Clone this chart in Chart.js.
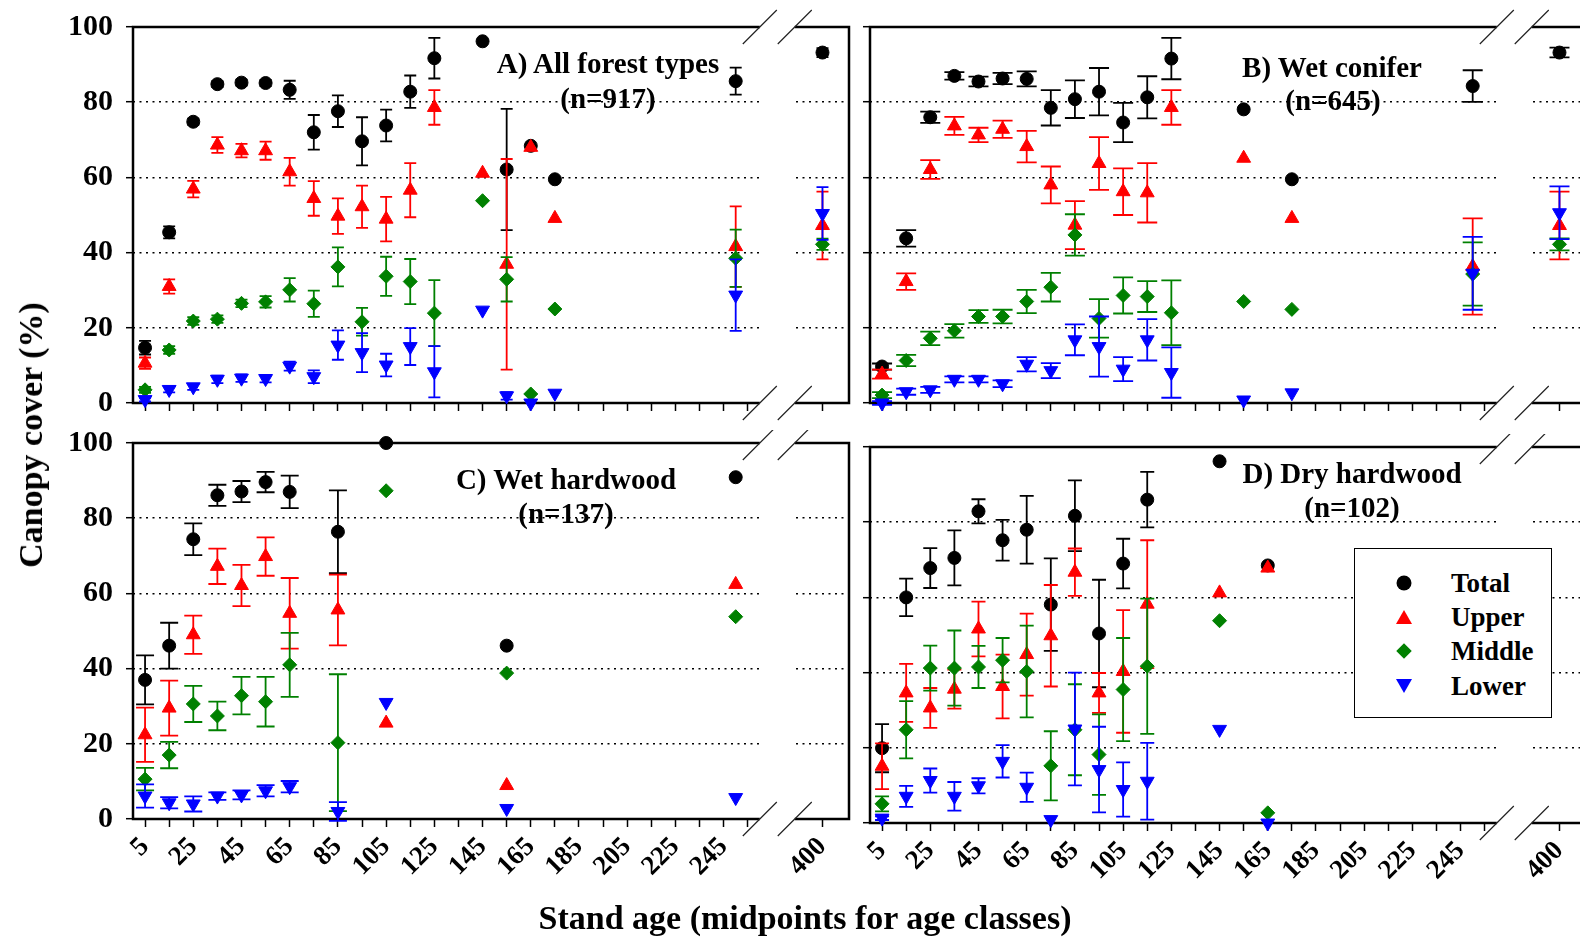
<!DOCTYPE html>
<html>
<head>
<meta charset="utf-8">
<script src="https://cdn.jsdelivr.net/npm/chart.js@4.4.1/dist/chart.umd.min.js"></script>
<style>
  body { margin: 0; width: 1580px; height: 940px; overflow: hidden; background: #fff; position: relative; }
  canvas { position: absolute; }
  .t { position: absolute; transform: translate(-50%, -50%); font: bold 29px 'Liberation Serif', serif;
       white-space: nowrap; line-height: 1; color: #000; z-index: 5; }
  .legend { position: absolute; left: 1354px; top: 548px; width: 196px; height: 168px; border: 1.5px solid #000;
            background: #fff; z-index: 5; }
  .legend .row { position: absolute; left: 0; height: 30px; width: 100%; }
  .legend .lab { position: absolute; left: 96px; top: 50%; transform: translateY(-50%); font: bold 27px 'Liberation Serif', serif; }
  .mk { position: absolute; left: 49px; top: 50%; transform: translate(-50%, -50%); }
</style>
</head>
<body>
<canvas id="cA" width="820" height="470" style="left:40px;top:0"></canvas>
<canvas id="cB" width="820" height="470" style="left:777px;top:0"></canvas>
<canvas id="cC" width="820" height="470" style="left:40px;top:430px"></canvas>
<canvas id="cD" width="820" height="470" style="left:777px;top:434px"></canvas>

<div class="t" style="left:608px;top:63px">A) All forest types</div>
<div class="t" style="left:608px;top:98px">(n=917)</div>
<div class="t" style="left:1332px;top:67px">B) Wet conifer</div>
<div class="t" style="left:1333px;top:100px">(n=645)</div>
<div class="t" style="left:566px;top:479px">C) Wet hardwood</div>
<div class="t" style="left:566px;top:513px">(n=137)</div>
<div class="t" style="left:1352px;top:473px">D) Dry hardwood</div>
<div class="t" style="left:1352px;top:507px">(n=102)</div>

<div class="t" style="left:31px;top:435px;font-size:34px;transform:translate(-50%,-50%) rotate(-90deg)">Canopy cover (%)</div>
<div class="t" style="left:805px;top:918px;font-size:34px">Stand age (midpoints for age classes)</div>

<div class="legend">
  <div class="row" style="top:19px"><div class="mk" style="width:15px;height:15px;border-radius:50%;background:#000"></div><span class="lab">Total</span></div>
  <div class="row" style="top:53px"><div class="mk" style="width:0;height:0;border-left:8px solid transparent;border-right:8px solid transparent;border-bottom:14px solid #ff0000"></div><span class="lab">Upper</span></div>
  <div class="row" style="top:87px"><div class="mk" style="width:11px;height:11px;background:#008000;transform:translate(-50%,-50%) rotate(45deg)"></div><span class="lab">Middle</span></div>
  <div class="row" style="top:122px"><div class="mk" style="width:0;height:0;border-left:8px solid transparent;border-right:8px solid transparent;border-top:14px solid #0000ff"></div><span class="lab">Lower</span></div>
</div>

<script>
// x axis ticks (every age class) and the labelled ones
const tickAges = [5, 15, 25, 35, 45, 55, 65, 75, 85, 95, 105, 115, 125, 135, 145, 155, 165, 175, 185, 195, 205, 215, 225, 235, 245, 255];
const labelAges = [5, 25, 45, 65, 85, 105, 125, 145, 165, 185, 205, 225, 245];
const farAges = [400];
const yTicks = [0, 20, 40, 60, 80, 100];

// A) All forest types
const agesA = [5, 15, 25, 35, 45, 55, 65, 75, 85, 95, 105, 115, 125, 145, 155, 165, 175, 250, 400];
const totalA = [14.7, 45.4, 74.8, 84.8, 85.2, 85.1, 83.3, 72.0, 77.6, 69.6, 73.8, 82.8, 91.7, 96.2, 62.1, 68.4, 59.5, 85.6, 93.2];
const totalAErr = [1.8, 1.6, 0.8, 0.8, 0.8, 0.8, 2.4, 4.6, 4.2, 6.4, 4.2, 4.3, 5.4, 0, 16.1, 0, 0, 3.6, 1.2];
const upperA = [10.6, 31.0, 56.9, 68.6, 67.1, 67.1, 61.5, 54.4, 49.7, 52.2, 48.9, 56.6, 78.6, 61.1, 36.9, 68.0, 49.1, 41.6, 47.2];
const upperAErr = [1.5, 1.9, 2.2, 2.1, 1.8, 2.4, 3.7, 4.6, 4.7, 5.6, 5.9, 7.2, 4.6, 0, 28, 0, 0, 10.7, 9];
const middleA = [3.5, 14.1, 21.8, 22.3, 26.5, 26.9, 30.1, 26.4, 36.2, 21.6, 33.7, 32.3, 23.9, 53.8, 32.9, 2.4, 25.0, 38.5, 42.2];
const middleAErr = [0.8, 1, 1, 1, 1, 1.5, 3.1, 3.5, 5.2, 3.7, 5.2, 6, 8.8, 0, 5.9, 0, 0, 7.6, 1.5];
const lowerA = [0.9, 3.6, 4.3, 6.3, 6.6, 6.5, 9.8, 7.0, 15.4, 13.4, 10.1, 15.0, 8.3, 24.7, 1.9, 0, 2.6, 28.7, 50.4];
const lowerAErr = [0.5, 0.8, 0.8, 1, 1, 1, 1.2, 1.7, 3.9, 5.2, 3, 4.9, 6.8, 0, 1, 0, 0, 9.5, 7];

// B) Wet conifer
const agesB = [5, 15, 25, 35, 45, 55, 65, 75, 85, 95, 105, 115, 125, 155, 175, 250, 400];
const totalB = [9.7, 43.8, 76.0, 87.0, 85.5, 86.3, 86.2, 78.5, 80.8, 82.8, 74.6, 81.3, 91.6, 78.1, 59.5, 84.3, 93.2];
const totalBErr = [0.8, 2.2, 1.5, 1, 1.3, 1.5, 2, 4.7, 5, 6.3, 5.2, 5.6, 5.5, 0, 0, 4.2, 1.3];
const upperB = [7.7, 32.3, 62.1, 73.7, 71.3, 72.8, 68.2, 58.0, 47.3, 63.7, 56.2, 55.9, 78.6, 65.1, 49.1, 36.3, 47.2];
const upperBErr = [1.2, 2.2, 2.5, 2.4, 1.9, 2.3, 4.2, 4.9, 6.4, 7, 6.2, 7.9, 4.6, 0, 0, 12.8, 9];
const middleB = [2.1, 11.3, 17.2, 19.2, 23.0, 23.0, 27.0, 30.8, 44.7, 22.5, 28.6, 28.3, 24.0, 27.0, 24.9, 34.3, 42.2];
const middleBErr = [0.8, 1.5, 1.8, 1.8, 1.7, 1.8, 3.1, 3.8, 5.5, 5.1, 4.8, 4.1, 8.6, 0, 0, 8.4, 1.6];
const lowerB = [0, 3.0, 3.5, 6.3, 6.3, 5.1, 10.3, 8.6, 16.8, 15.0, 9.0, 16.8, 8.1, 0.8, 2.7, 34.5, 50.6];
const lowerBErr = [0.5, 0.8, 0.8, 0.8, 0.8, 0.9, 1.9, 2, 4.1, 8, 3.2, 5.5, 6.7, 0, 0, 9.7, 7];

// C) Wet hardwood
const agesC = [5, 15, 25, 35, 45, 55, 65, 85, 105, 155, 250];
const totalC = [37.0, 46.1, 74.4, 86.1, 87.1, 89.6, 87.0, 76.4, 100, 46.1, 90.9];
const totalCErr = [6.5, 6.1, 4.2, 2.8, 2.8, 2.7, 4.3, 11, 0, 0, 0];
const upperC = [22.4, 29.5, 49.0, 67.2, 62.1, 69.8, 54.7, 55.6, 25.5, 8.9, 62.4];
const upperCErr = [7.2, 7.3, 5.1, 4.7, 5.5, 5.1, 9.4, 9.4, 0, 0, 0];
const middleC = [10.6, 17.0, 30.6, 27.4, 32.8, 31.2, 41.0, 20.3, 87.3, 38.8, 53.8];
const middleCErr = [3, 3.5, 4.8, 3.8, 5, 6.6, 8.5, 18.2, 0, 0, 0];
const lowerC = [6.1, 4.3, 4.0, 6.1, 6.4, 7.5, 8.6, 2.0, 31.0, 2.8, 5.7];
const lowerCErr = [3.1, 1.5, 2, 1, 1.2, 1.5, 1.5, 2.5, 0, 0, 0];

// D) Dry hardwood
const agesD = [5, 15, 25, 35, 45, 55, 65, 75, 85, 95, 105, 115, 145, 165];
const totalD = [19.9, 60.0, 67.8, 70.5, 82.9, 75.2, 78.0, 58.1, 81.7, 50.4, 69.0, 86.0, 96.2, 68.5];
const totalDErr = [6.4, 5, 5.3, 7.3, 3.2, 5.4, 9, 12.3, 9.4, 14.3, 6.6, 7.4, 0, 0];
const upperD = [15.1, 34.6, 30.6, 35.6, 51.6, 36.3, 44.8, 49.8, 66.7, 34.6, 40.3, 58.2, 61.2, 67.8];
const upperDErr = [6.1, 7.7, 5.3, 5.2, 7.3, 8.5, 10.9, 13.5, 6.3, 5.3, 16.3, 17, 0, 0];
const middleD = [5.1, 24.8, 41.2, 41.2, 41.5, 43.3, 40.3, 15.2, 24.8, 18.2, 35.5, 41.7, 53.8, 2.7];
const middleDErr = [2, 7.6, 6, 10, 5.6, 5.9, 12.2, 9.2, 12.1, 10.7, 13.7, 18, 0, 0];
const lowerD = [1.3, 7.1, 11.3, 7.1, 9.9, 16.4, 9.5, 0.9, 25.0, 14.2, 8.9, 11.1, 24.9, 0];
const lowerDErr = [0.5, 2.8, 3.2, 3.8, 2, 4.3, 3.9, 0, 15, 11.4, 7.2, 10.2, 0, 0];

const NEAR_MAX = 260;   // left part of the broken axis
const FAR_MIN = 374;    // right part starts here (gap up to BREAK_END)
const FAR_MAX = 411;
const BREAK_END = 388.5;

const seriesStyle = [
  { label: 'Total', color: '#000000', pointStyle: 'circle', radius: 6.5, rotation: 0 },
  { label: 'Upper', color: '#ff0000', pointStyle: 'triangle', radius: 8, rotation: 0 },
  { label: 'Middle', color: '#008000', pointStyle: 'rectRot', radius: 7, rotation: 0 },
  { label: 'Lower', color: '#0000ff', pointStyle: 'triangle', radius: 8, rotation: 180 },
];

Chart.defaults.font.family = "'Liberation Serif', serif";
Chart.defaults.font.weight = 'bold';
Chart.defaults.color = '#000';

// error bars drawn just before each dataset's markers
const errorBars = {
  id: 'errorBars',
  beforeDatasetDraw(chart, args, opts) {
    const ds = chart.data.datasets[args.index];
    if (!ds.errors) return;
    const { ctx } = chart;
    const y = chart.scales.y;
    const cap = opts.cap || 8;
    ctx.save();
    ctx.strokeStyle = ds.borderColor;
    ctx.lineWidth = 1.8;
    args.meta.data.forEach((pt, i) => {
      const e = ds.errors[i];
      if (!e) return;
      const v = ds.data[i].y;
      const top = y.getPixelForValue(v + e);
      const bot = y.getPixelForValue(v - e);
      ctx.beginPath();
      ctx.moveTo(pt.x, top); ctx.lineTo(pt.x, bot);
      ctx.moveTo(pt.x - cap, top); ctx.lineTo(pt.x + cap, top);
      ctx.moveTo(pt.x - cap, bot); ctx.lineTo(pt.x + cap, bot);
      ctx.stroke();
    });
    ctx.restore();
  }
};

// box around the plot with the axis break (gap + double slashes)
const frameBreak = {
  id: 'frameBreak',
  beforeDatasetsDraw(chart) {
    const { ctx, chartArea: a, scales } = chart;
    const gapL = scales.x.right;
    const gapR = scales.x2.getPixelForValue(BREAK_END);
    ctx.save();
    ctx.fillStyle = '#fff';
    ctx.fillRect(gapL, a.top - 3, gapR - gapL, a.bottom - a.top + 6);
    ctx.strokeStyle = '#000';
    ctx.lineWidth = 2.5;
    ctx.beginPath();
    ctx.moveTo(a.left, a.top); ctx.lineTo(gapL, a.top);
    ctx.moveTo(gapR, a.top); ctx.lineTo(a.right, a.top);
    ctx.moveTo(a.left, a.bottom); ctx.lineTo(gapL, a.bottom);
    ctx.moveTo(gapR, a.bottom); ctx.lineTo(a.right, a.bottom);
    ctx.moveTo(a.left, a.top - 1.25); ctx.lineTo(a.left, a.bottom + 1.25);
    ctx.moveTo(a.right, a.top - 1.25); ctx.lineTo(a.right, a.bottom + 1.25);
    ctx.stroke();
    ctx.lineWidth = 1.2;
    ctx.strokeStyle = '#222';
    ctx.beginPath();
    [gapL, gapR].forEach(x => {
      [a.top, a.bottom].forEach(y => {
        ctx.moveTo(x - 17, y + 17);
        ctx.lineTo(x + 17, y - 17);
      });
    });
    ctx.stroke();
    ctx.restore();
  }
};

function buildDatasets(ages, values, errors) {
  const out = [];
  seriesStyle.forEach((s, k) => {
    ['x', 'x2'].forEach(axis => {
      const pts = [], errs = [];
      ages.forEach((a, i) => {
        const far = a > NEAR_MAX;
        if ((axis === 'x2') !== far) return;
        pts.push({ x: a, y: values[k][i] });
        errs.push(errors[k][i]);
      });
      if (!pts.length) return;
      out.push({
        label: s.label,
        data: pts,
        errors: errs,
        xAxisID: axis,
        pointStyle: s.pointStyle,
        pointRadius: s.radius,
        pointRotation: s.rotation,
        pointBorderWidth: 1,
        backgroundColor: s.color,
        borderColor: s.color,
        clip: false,
        order: 4 - k,
      });
    });
  });
  return out;
}

function zeroPad(scale) {
  scale.paddingLeft = 0; scale.paddingRight = 0;
  scale.paddingTop = 0; scale.paddingBottom = 0;
}

function makePanel(id, ages, values, errors, cfg) {
  const xTickOpts = {
    display: cfg.showX,
    autoSkip: false,
    minRotation: 45,
    maxRotation: 45,
    padding: 4,
    font: { size: 27, weight: 'bold' },
    color: '#000',
  };
  const xGrid = { drawOnChartArea: false, tickLength: 8, tickWidth: 1.5, tickColor: '#000' };
  new Chart(document.getElementById(id), {
    type: 'scatter',
    data: { datasets: buildDatasets(ages, values, errors) },
    options: {
      responsive: false,
      animation: false,
      layout: { padding: { top: cfg.top, right: 11, left: 0, bottom: 0 } },
      plugins: { legend: { display: false }, tooltip: { enabled: false }, errorBars: { cap: cfg.cap } },
      scales: {
        x: {
          type: 'linear', position: 'bottom', stack: 'bottom', stackWeight: NEAR_MAX,
          min: 0, max: NEAR_MAX,
          afterBuildTicks: s => { s.ticks = tickAges.map(v => ({ value: v })); },
          afterFit: s => { s.height = cfg.xh; zeroPad(s); },
          grid: xGrid,
          border: { display: false },
          ticks: { ...xTickOpts, callback: v => (labelAges.includes(v) ? String(v) : '') },
        },
        x2: {
          type: 'linear', position: 'bottom', stack: 'bottom', stackWeight: FAR_MAX - FAR_MIN,
          min: FAR_MIN, max: FAR_MAX,
          afterBuildTicks: s => { s.ticks = farAges.map(v => ({ value: v })); },
          afterFit: s => { s.height = cfg.xh; zeroPad(s); },
          grid: xGrid,
          border: { display: false },
          ticks: { ...xTickOpts, callback: v => String(v) },
        },
        y: {
          type: 'linear', position: 'left', min: 0, max: 100,
          afterBuildTicks: s => { s.ticks = yTicks.map(v => ({ value: v })); },
          afterFit: s => { s.width = 93; zeroPad(s); },
          grid: {
            color: c => (c.tick && (c.tick.value === 0 || c.tick.value === 100) ? 'rgba(0,0,0,0)' : '#000'),
            lineWidth: 1.4,
            tickLength: 7,
            tickWidth: 1.5,
            tickColor: '#000',
          },
          border: { display: false, dash: [2, 4.5] },
          ticks: { display: cfg.showY, padding: 13, font: { size: 30, weight: 'bold' }, color: '#000' },
        },
      },
    },
    plugins: [frameBreak, errorBars],
  });
}

makePanel('cA', agesA, [totalA, upperA, middleA, lowerA], [totalAErr, upperAErr, middleAErr, lowerAErr],
  { top: 27, xh: 67, showX: false, showY: true, cap: 6 });
makePanel('cB', agesB, [totalB, upperB, middleB, lowerB], [totalBErr, upperBErr, middleBErr, lowerBErr],
  { top: 27, xh: 67, showX: false, showY: false, cap: 10 });
makePanel('cC', agesC, [totalC, upperC, middleC, lowerC], [totalCErr, upperCErr, middleCErr, lowerCErr],
  { top: 13, xh: 81, showX: true, showY: true, cap: 9 });
makePanel('cD', agesD, [totalD, upperD, middleD, lowerD], [totalDErr, upperDErr, middleDErr, lowerDErr],
  { top: 13, xh: 81, showX: true, showY: false, cap: 7 });
</script>
</body>
</html>
